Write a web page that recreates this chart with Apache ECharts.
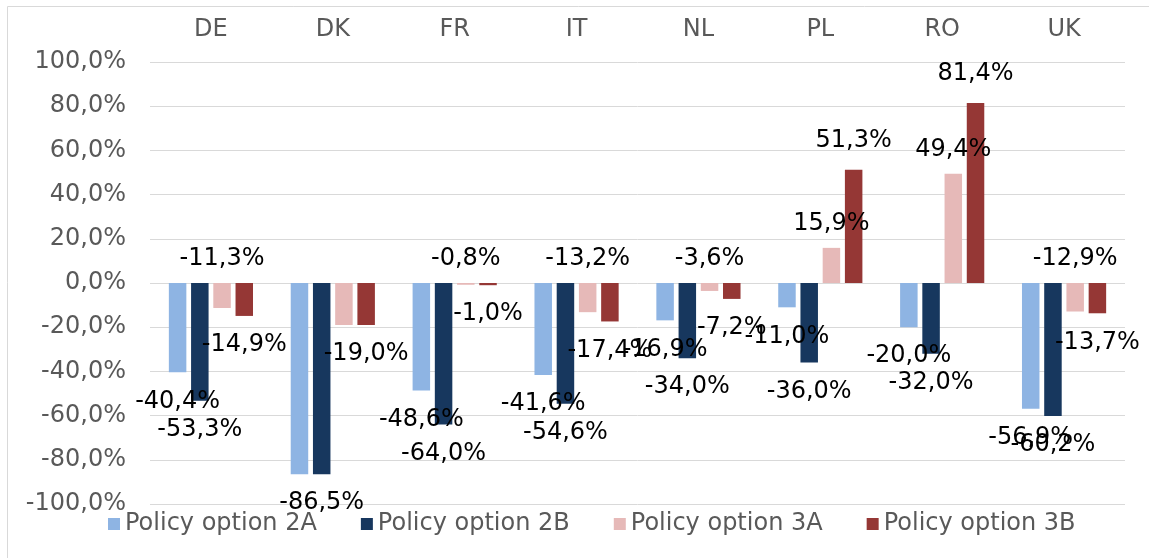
<!DOCTYPE html>
<html style="height: 100%">
    <head>
        <meta charset="utf-8">
    </head>
    <body style="height: 100%; margin: 0">
        <div id="container" style="height: 100%"></div>

        <script type="text/javascript" src="https://cdn.jsdelivr.net/npm/echarts@6/dist/echarts.min.js"></script>
        <script type="text/javascript">
// countries on the (top) category axis
var countries = ['DE', 'DK', 'FR', 'IT', 'NL', 'PL', 'RO', 'UK'];
var seriesNames = ['Policy option 2A', 'Policy option 2B', 'Policy option 3A', 'Policy option 3B'];
// change in %, one array per policy option
var option2A = [-40.4, -86.5, -48.6, -41.6, -16.9, -11.0, -20.0, -56.9];
var option2B = [-53.3, -86.5, -64.0, -54.6, -34.0, -36.0, -32.0, -60.2];
var option3A = [-11.3, -19.0, -0.8, -13.2, -3.6, 15.9, 49.4, -12.9];
var option3B = [-14.9, -19.0, -1.0, -17.4, -7.2, 51.3, 81.4, -13.7];
var yTicks = [-100, -80, -60, -40, -20, 0, 20, 40, 60, 80, 100];

var colors = ['#8eb4e3', '#17375e', '#e6b9b8', '#953735'];
// labels that sit on top of each other in the original, only one is kept
var hiddenLabels = [['DK'], [], ['DK'], []];

var font = 'DejaVu Sans, Verdana, sans-serif';

function pct(v) {
    return v.toFixed(1).replace('.', ',') + '%';
}

function makeData(values, hidden) {
    return values.map(function (v, i) {
        if (hidden.indexOf(countries[i]) >= 0) {
            return {value: v, label: {show: false}};
        }
        return v;
    });
}

var dom = document.getElementById('container');
var myChart = echarts.init(dom);

var allValues = [option2A, option2B, option3A, option3B];

var option = {
    animation: false,
    color: colors,
    textStyle: {fontFamily: font},
    graphic: [{
        type: 'rect',
        shape: {x: 7.5, y: 6.5, width: 1300, height: 700},
        style: {fill: 'none', stroke: '#d9d9d9', lineWidth: 1},
        silent: true
    }],
    grid: {
        left: 150,
        right: 24,
        top: 62,
        bottom: 54
    },
    legend: {
        data: seriesNames,
        left: 103,
        top: 507,
        icon: 'rect',
        itemWidth: 12,
        itemHeight: 12,
        itemGap: 44,
        textStyle: {fontSize: 24, color: '#595959', fontFamily: font}
    },
    xAxis: {
        type: 'category',
        position: 'top',
        data: countries,
        axisLine: {show: false, onZero: false},
        axisTick: {show: false},
        axisLabel: {fontSize: 24, color: '#595959', margin: 20, fontFamily: font}
    },
    yAxis: {
        type: 'value',
        min: yTicks[0],
        max: yTicks[yTicks.length - 1],
        interval: 20,
        axisLine: {show: false},
        axisTick: {show: false},
        splitLine: {lineStyle: {color: '#d9d9d9', width: 1}},
        axisLabel: {
            fontSize: 24,
            color: '#595959',
            margin: 24,
            fontFamily: font,
            formatter: function (v) { return pct(v); }
        }
    },
    series: seriesNames.map(function (name, k) {
        return {
            name: name,
            type: 'bar',
            barWidth: 17.5,
            barGap: '27%',
            data: makeData(allValues[k], hiddenLabels[k]),
            label: {
                show: true,
                position: k === 2 ? 'top' : 'outside',
                distance: k === 2 ? 12 : 17,
                fontSize: 24,
                color: '#000',
                fontFamily: font,
                formatter: function (p) { return pct(p.value); }
            }
        };
    })
};

myChart.setOption(option);
        </script>
    </body>
</html>
